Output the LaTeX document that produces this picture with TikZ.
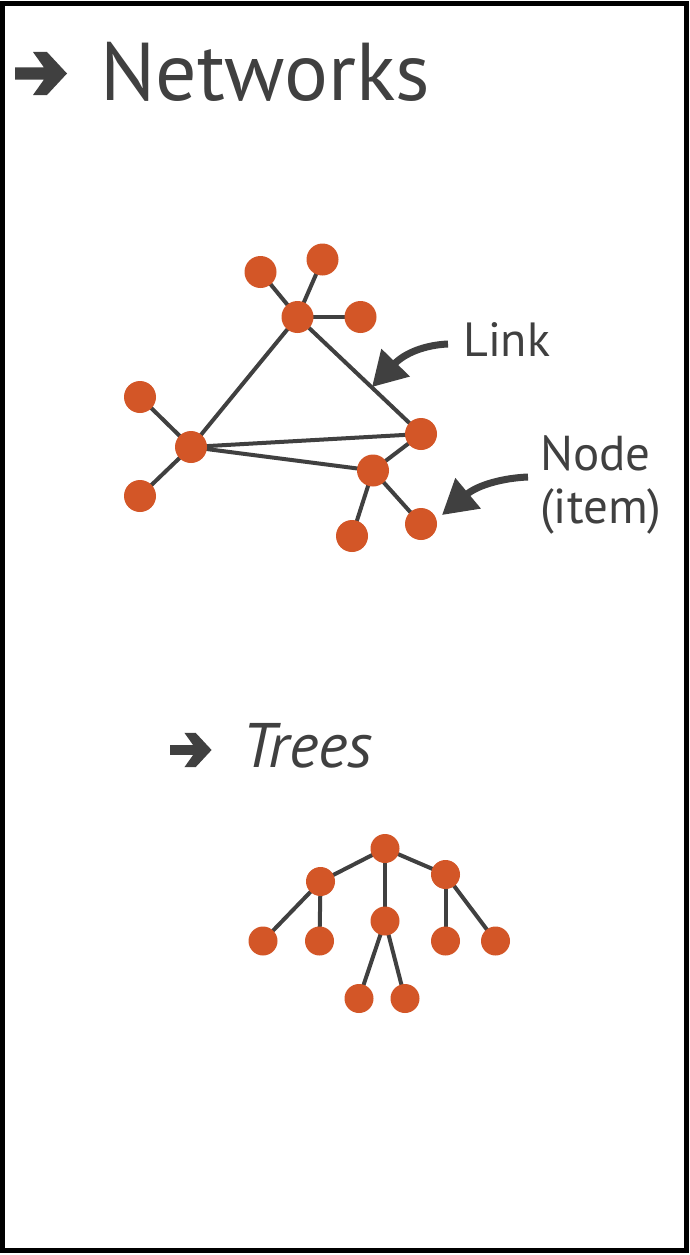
\documentclass[tikz,border=0pt]{standalone}
\usepackage{fontspec}
\setmainfont{PT Sans}
\usetikzlibrary{arrows.meta,backgrounds}
\definecolor{nodeor}{HTML}{D35627}
\definecolor{ink}{HTML}{404040}
\tikzset{
  dot/.style={circle,fill=nodeor,inner sep=0pt,minimum size=32pt},
  tdot/.style={circle,fill=nodeor,inner sep=0pt,minimum size=29pt},
  edge/.style={draw=ink,line width=4pt},
  callout/.style={draw=ink,line width=7pt,-{Triangle[length=34pt,width=38pt]}},
  lbl/.style={text=ink,inner sep=0pt},
  bullet/.style={fill=ink,draw=none}
}
\begin{document}
\begin{tikzpicture}[x=1pt,y=-1pt]
\useasboundingbox (0,0) rectangle (690,1255);
\begin{scope}[on background layer]
\fill[white] (0,0) rectangle (690,1255);
\end{scope}
\draw[black,line width=5pt] (2.5,4) rectangle (686.5,1250.5);

% heading arrows
\fill[bullet,shift={(15,73.5)}] (0,-6) -- (29,-6) -- (18,-21.5) -- (32,-21.5) -- (52,0) -- (32,21.5) -- (18,21.5) -- (29,6) -- (0,6) -- cycle;
\node[lbl,anchor=base west,font=\fontsize{82}{82}\selectfont] (nettitle) at (100,100) {Networks};

% network nodes
\node[dot] (a) at (260.5,272) {};
\node[dot] (b) at (322.5,259.5) {};
\node[dot] (c) at (297.5,317) {};
\node[dot] (d) at (360.5,317) {};
\node[dot] (e) at (140,397) {};
\node[dot] (f) at (191,447) {};
\node[dot] (g) at (140,496) {};
\node[dot] (h) at (421,434) {};
\node[dot] (i) at (373,470.5) {};
\node[dot] (j) at (352,536) {};
\node[dot] (k) at (421,524) {};
\begin{scope}[on background layer]
\foreach \u/\v in {a/c,b/c,c/d,c/f,c/h,e/f,f/g,f/h,f/i,i/h,i/j,i/k}{
  \draw[edge] (\u.center) -- (\v.center);
}
\end{scope}

% callouts
\node[lbl,anchor=base west,font=\fontsize{48}{48}\selectfont] (linklbl) at (463,356) {Link};
\coordinate (linkstart) at (448,344);
\coordinate (linktip) at (372,387);
\draw[callout] (linkstart) .. controls (425,345) and (405,353) .. (linktip);

\node[lbl,anchor=base west,font=\fontsize{49}{49}\selectfont] (nodelbl) at (540,470) {Node};
\node[lbl,anchor=base west,font=\fontsize{49}{49}\selectfont] (itemlbl) at (540,523) {(item)};
\coordinate (nodestart) at (528,477);
\coordinate (nodetip) at (442,515);
\draw[callout] (nodestart) .. controls (503,478) and (478,485) .. (nodetip);

% trees heading
\fill[bullet,shift={(170,750)},scale=0.8] (0,-6) -- (29,-6) -- (18,-21.5) -- (32,-21.5) -- (52,0) -- (32,21.5) -- (18,21.5) -- (29,6) -- (0,6) -- cycle;
\node[lbl,anchor=base west,font=\fontsize{63}{63}\selectfont\itshape] (treetitle) at (242,767) {Trees};

% tree
\node[tdot] (r) at (385,848.5) {};
\node[tdot] (l1) at (320.5,881.5) {};
\node[tdot] (m1) at (385,921) {};
\node[tdot] (r1) at (445.5,874.5) {};
\node[tdot] (ll) at (263,941) {};
\node[tdot] (lm) at (319.5,941) {};
\node[tdot] (rl) at (445.5,941) {};
\node[tdot] (rr) at (495.5,941) {};
\node[tdot] (ml) at (359,998.5) {};
\node[tdot] (mr) at (405,998.5) {};
\begin{scope}[on background layer]
\foreach \u/\v in {r/l1,r/m1,r/r1,l1/ll,l1/lm,r1/rl,r1/rr,m1/ml,m1/mr}{
  \draw[edge] (\u.center) -- (\v.center);
}
\end{scope}
\end{tikzpicture}
\end{document}
